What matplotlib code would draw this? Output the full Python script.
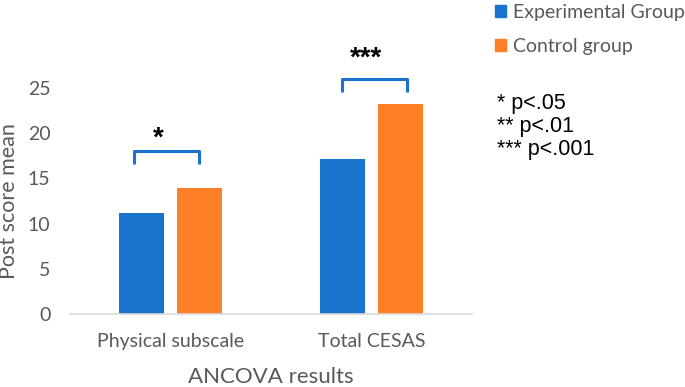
import matplotlib
matplotlib.use("Agg")
import matplotlib.pyplot as plt
from matplotlib.patches import Patch
import numpy as np

categories = ["Physical subscale", "Total CESAS"]
experimental = [11.2, 17.1]
control = [13.9, 23.2]
series_names = ["Experimental Group", "Control group"]
sig_labels = ["*", "***"]
yticks = [0, 5, 10, 15, 20, 25]
note_lines = ["* p<.05", "** p<.01", "*** p<.001"]

blue = "#1874CD"
orange = "#FF7F27"
txt = "#595959"
ui_font = "Lato"

fig = plt.figure(figsize=(6.85, 3.87), dpi=100)
ax = fig.add_axes([0.102, 0.1886, 0.587, 0.584])

x = np.arange(len(categories))
w = 0.225
off = 0.145
ax.bar(x - off, experimental, w, color=blue, label=series_names[0])
ax.bar(x + off, control, w, color=orange, label=series_names[1])

ax.set_xlim(-0.5, 1.5)
ax.set_ylim(0, 25)
ax.set_yticks(yticks)
ax.set_xticks(x)
ax.set_xticklabels(categories, fontsize=14, color=txt, family=ui_font)
for lbl in ax.get_yticklabels():
    lbl.set_fontsize(14)
    lbl.set_color(txt)
    lbl.set_family(ui_font)
ax.tick_params(length=0)
ax.tick_params(axis="x", pad=14)
ax.tick_params(axis="y", pad=14)
for s in ["top", "right", "left"]:
    ax.spines[s].set_visible(False)
ax.spines["bottom"].set_color("#d9d9d9")
ax.spines["bottom"].set_linewidth(1.2)

ax.set_ylabel("Post score mean", fontsize=15.5, color=txt, family=ui_font, labelpad=6)
ax.set_xlabel("ANCOVA results", fontsize=16, color=txt, family=ui_font, labelpad=12)

# significance brackets: (left offset, right offset, leg bottom, top, star baseline)
brackets = [(-0.18, 0.14, 16.6, 18.0, 18.6), (-0.147, 0.177, 24.6, 26.0, 27.5)]
for (x0, x1, yb, yt, ys), xi, lab in zip(brackets, x, sig_labels):
    ax.plot([xi + x0, xi + x0, xi + x1, xi + x1], [yb, yt, yt, yb],
            color=blue, lw=2.2, solid_joinstyle="round", solid_capstyle="butt", clip_on=False)
    ax.text(xi + (x0 + x1) / 2 - 0.04, ys, lab, ha="center", va="baseline",
            fontsize=20, fontweight="bold", color="black", family="Liberation Sans", clip_on=False)

handles = [Patch(color=blue), Patch(color=orange)]
fig.legend(handles, series_names, loc="upper left", bbox_to_anchor=(0.7226, 0.99),
           frameon=False, prop={"family": ui_font, "size": 14},
           borderpad=0, borderaxespad=0,
           handlelength=0.55, handleheight=0.55, handletextpad=0.4, labelspacing=0.86,
           labelcolor=txt)

fig.text(0.7256, 0.76, "\n".join(note_lines), ha="left", va="top",
         fontsize=15.5, family="Liberation Sans", color="black", linespacing=1.14)

fig.savefig("out.png", dpi=100)
